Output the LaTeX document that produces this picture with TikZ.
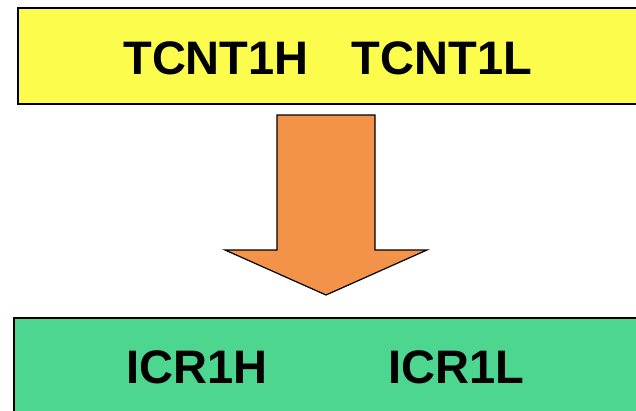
\documentclass[tikz,border=0pt]{standalone}
\usepackage{fontspec}
\setmainfont{Liberation Sans}
\usepackage{tikz}
\usetikzlibrary{positioning,calc}
\definecolor{regyellow}{HTML}{FCFC4C}
\definecolor{arrorange}{HTML}{F3934A}
\definecolor{capgreen}{HTML}{4CD690}
\tikzset{reg/.style={draw=black,line width=1.5pt,rectangle,inner sep=0pt,anchor=north west}}
\tikzset{lbl/.style={font=\fontsize{47}{50}\selectfont\bfseries,anchor=base,inner sep=0pt}}

\begin{document}
\begin{tikzpicture}[x=1pt, y=-1pt]
    \useasboundingbox (0,0) rectangle (636,410);
    \node[reg,fill=regyellow,minimum width=630pt,minimum height=96pt] (tcnt) at (17,7) {};
    \node[reg,fill=capgreen,minimum width=630pt,minimum height=100pt] (icr) at (13,317) {};

    \node[lbl] (tcnth) at (216,74) {TCNT1H};
    \node[lbl] (tcntl) at (442,74) {TCNT1L};
    \node[lbl] (icrh) at (197,383) {ICR1H};
    \node[lbl] (icrl) at (456,383) {ICR1L};

    % copy arrow
    \draw[fill=arrorange,line width=1.2pt,line join=miter] (277,115) -- (375,115) -- (375,250) -- (427,250)
        -- (326,295) -- (225,250) -- (277,250) -- cycle;
\end{tikzpicture}
\end{document}
